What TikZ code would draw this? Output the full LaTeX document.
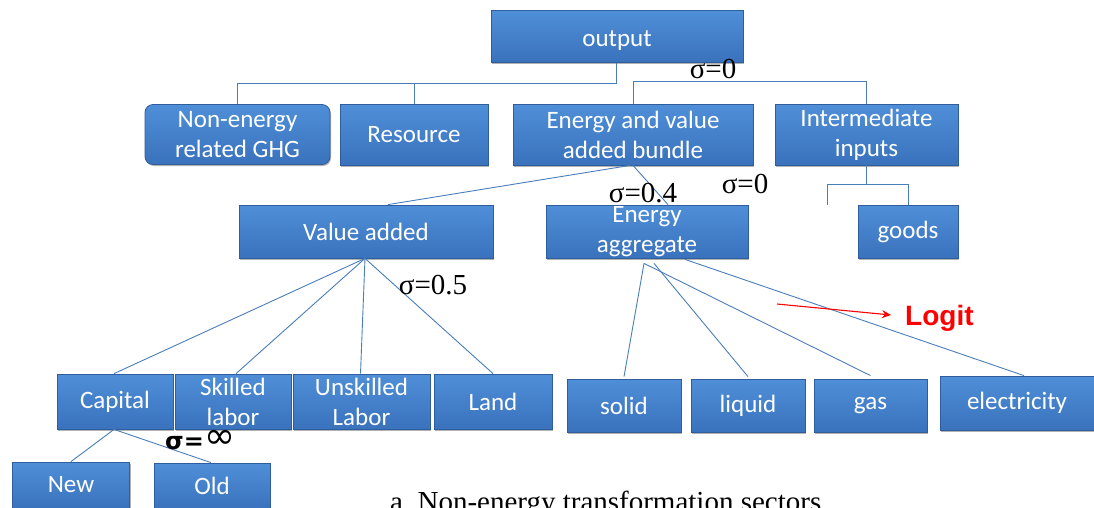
\documentclass[tikz,border=0pt]{standalone}
\usepackage{fontspec}
\setmainfont{Liberation Serif}
\newfontfamily\boxfont{Carlito}
\newfontfamily\logitfont{Liberation Sans}
\newfontfamily\symfont{DejaVu Sans}
\usetikzlibrary{calc,shadows,arrows.meta}
\definecolor{boxtop}{HTML}{4F8FD8}
\definecolor{boxbot}{HTML}{3A72BC}
\definecolor{boxedge}{HTML}{2F5E9E}
\definecolor{wire}{HTML}{4A7EBB}
\definecolor{logitred}{HTML}{FF0000}
\tikzset{
  blockbox/.style={draw=boxedge, line width=0.8pt, top color=boxtop, bottom color=boxbot,
    text=white, align=center, inner sep=0pt,
    font=\boxfont\fontsize{25}{30}\selectfont,
    drop shadow={shadow xshift=1pt, shadow yshift=-1.5pt, opacity=0.3, fill=black}},
  wireline/.style={draw=wire, line width=0.9pt},
  sigma/.style={font=\fontsize{29}{32}\selectfont, inner sep=0pt},
}
\begin{document}
\begin{tikzpicture}[x=1pt, y=-1pt]
\useasboundingbox (0,0) rectangle (1094,507);
\fill[white] (0,0) rectangle (1094,507);
\clip (0,0) rectangle (1094,507);

% top level
\node[blockbox, minimum width=252, minimum height=52] (out) at (617,36.5) {\raisebox{-4pt}[\height][\depth]{output}};

% second level
\node[blockbox, rounded corners=8pt, minimum width=185, minimum height=60] (neg) at (237.5,134.5) {Non-energy\\related GHG};
\node[blockbox, minimum width=148, minimum height=61] (res) at (414,134.5) {Resource};
\node[blockbox, minimum width=240, minimum height=61] (eva) at (633,134.5) {Energy and value\\added bundle};
\node[blockbox, minimum width=183, minimum height=61] (ii) at (866.5,134.5) {Intermediate\\inputs};

% third level
\node[blockbox, minimum width=254, minimum height=53] (va) at (366,231.5) {Value added};
\node[blockbox, minimum width=202, minimum height=53] (ea) at (647,231.5) {Energy\\aggregate};
\node[blockbox, minimum width=100, minimum height=53] (goods) at (908,231.5) {goods};

% primary factors
\node[blockbox, minimum width=116, minimum height=55] (cap) at (115,401.5) {Capital};
\node[blockbox, minimum width=116, minimum height=55] (sk) at (233,401.5) {Skilled\\labor};
\node[blockbox, minimum width=137, minimum height=55] (un) at (361.5,401.5) {Unskilled\\Labor};
\node[blockbox, minimum width=118, minimum height=55] (land) at (493,401.5) {Land};

% energy carriers
\node[blockbox, minimum width=114, minimum height=53] (solid) at (624,405.5) {solid};
\node[blockbox, minimum width=114, minimum height=53] (liquid) at (748,405.5) {liquid};
\node[blockbox, minimum width=113, minimum height=53] (gas) at (870.5,405.5) {gas};
\node[blockbox, minimum width=154, minimum height=54] (elec) at (1017,403) {electricity};

% capital vintages
\node[blockbox, minimum width=117, minimum height=46] (new) at (71,485) {New};
\node[blockbox, minimum width=116, minimum height=46] (old) at (212,486) {Old};

% tree connectors
\draw[wireline] ($(out.south)+(-1,0)$) -- ++(0,21) -| (neg.north);
\draw[wireline] (res.north) -- ++(0,-21);
\draw[wireline] (eva.north) -- ++(0,-22) -| (ii.north);

\draw[wireline] ($(eva.south)+(-3,0)$) -- ($(va.north)+(22,0)$);
\draw[wireline] (eva.south) -- ($(ea.north)+(21,0)$);

\draw[wireline] (ii.south) -- ++(0,19) coordinate (iibar);
\coordinate (iileft) at ($(iibar)+(-39,0)$);
\draw[wireline] (iileft) -- (iibar) -| (goods.north);
\draw[wireline] (iileft) -- ++(0,21);

\draw[wireline] ($(va.south)+(-1,0)$) -- ($(cap.north)+(-1,0)$);
\draw[wireline] ($(va.south)+(-1,0)$) -- ($(sk.north)+(3,0)$);
\draw[wireline] ($(va.south)+(-1,0)$) -- ($(un.north)+(-1,0)$);
\draw[wireline] ($(va.south)+(-1,0)$) -- (land.north);

\coordinate (eaA) at ($(ea.south)+(-3,5)$);
\coordinate (eaB) at ($(ea.south)+(7,5)$);
\coordinate (eaC) at ($(ea.south)+(38,1)$);
\draw[wireline] (eaA) -- ($(solid.north)+(0,-2)$);
\draw[wireline] (eaA) -- ($(gas.north)+(0,-3)$);
\draw[wireline] (eaB) -- ($(liquid.north)+(0,-2)$);
\draw[wireline] (eaC) -- ($(elec.north)+(7,0)$);

\draw[wireline] ($(cap.south)+(-1,0)$) -- (new.north);
\draw[wireline] ($(cap.south)+(-1,0)$) -- ($(old.north)+(-1,0)$);

% elasticity labels
\node[sigma] (s0a) at (713,69) {σ=0};
\node[sigma] (s0b) at (745,184) {σ=0};
\node[sigma] (s04) at (643,193) {σ=0.4};
\node[sigma] (s05) at (433,285) {σ=0.5};
\node[inner sep=0pt, anchor=base west, font=\symfont\bfseries\fontsize{24}{26}\selectfont] (sinf) at (165,449) {σ=\raisebox{1pt}{\resizebox{31pt}{!}{\mdseries ∞}}};

% logit annotation
\node[font=\logitfont\bfseries\fontsize{28}{32}\selectfont, text=logitred, anchor=west, inner sep=0pt] (logit) at (905,318) {Logit};
\coordinate (logitfrom) at (777,304);
\draw[draw=logitred, line width=1.1pt, -{Stealth[length=9pt,width=8pt]}] (logitfrom) -- ($(logit.west)+(-14,-3)$);

% caption
\node[anchor=base west, inner sep=0pt, font=\fontsize{29}{32}\selectfont] (caption) at (390,511) {a.\ Non-energy transformation sectors};
\end{tikzpicture}
\end{document}
